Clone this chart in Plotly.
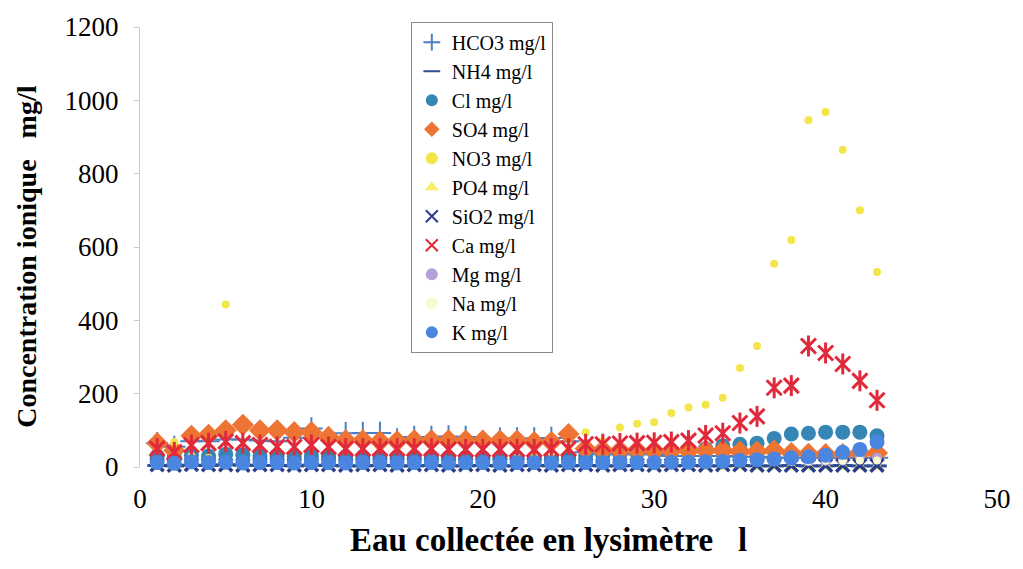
import plotly.graph_objects as go

# Sample index (litres collected in the lysimeter)
volume = [1, 2, 3, 4, 5, 6, 7, 8, 9, 10, 11, 12, 13, 14, 15, 16, 17, 18, 19, 20, 21, 22,
          23, 24, 25, 26, 27, 28, 29, 30, 31, 32, 33, 34, 35, 36, 37, 38, 39, 40, 41, 42, 43]

# Ion concentrations, mg/l
hco3 = [65, 55, 70, 70, 75, 75, 72, 70, 80, 105, 80, 92, 93, 93, 75, 82, 82, 83, 82, 70, 77, 78,
        78, 79, 70, 40, 35, 35, 35, 35, 30, 30, 30, 30, 28, 28, 25, 25, 25, 25, 25, 25, 25]
nh4 = [4, 3, 5, 4, 6, 5, 4, 4, 3, 5, 4, 3, 3, 4, 3, 3, 4, 3, 3, 4, 3, 3,
       4, 3, 3, 4, 3, 3, 4, 3, 3, 4, 3, 3, 4, 3, 3, 4, 3, 3, 4, 3, 3]
cl = [30, 28, 32, 30, 35, 33, 30, 30, 28, 30, 28, 27, 27, 26, 26, 25, 25, 25, 25, 25, 24, 24,
      24, 25, 26, 30, 32, 35, 38, 40, 42, 45, 50, 58, 62, 65, 78, 90, 92, 95, 95, 95, 85]
so4 = [65, 45, 85, 88, 100, 115, 100, 100, 95, 95, 82, 73, 73, 70, 70, 73, 73, 73, 72, 72, 72, 72,
       68, 68, 90, 50, 46, 45, 45, 44, 44, 44, 45, 45, 42, 42, 45, 38, 36, 35, 35, 38, 38]
no3 = [20, 68, 30, 25, 443, 20, 18, 15, 18, 20, 15, 18, 15, 15, 18, 15, 15, 18, 15, 15, 20, 25,
       30, 40, 50, 95, 70, 108, 118, 122, 147, 162, 170, 189, 270, 330, 554, 619, 946, 968, 865, 700, 532]
po4 = [1, 1, 2, 1, 1, 2, 1, 1, 1, 2, 1, 1, 1, 1, 2, 1, 1, 1, 1, 2, 1, 1,
       1, 1, 2, 1, 1, 1, 1, 2, 1, 1, 1, 1, 2, 1, 1, 1, 1, 2, 1, 1, 1]
sio2 = [6, 5, 7, 6, 6, 5, 6, 6, 5, 6, 6, 5, 6, 6, 5, 6, 6, 5, 6, 6, 5, 6,
        6, 5, 6, 6, 5, 6, 6, 5, 6, 6, 5, 6, 6, 5, 5, 5, 5, 5, 5, 5, 5]
ca = [50, 40, 60, 65, 70, 65, 60, 55, 55, 60, 55, 50, 50, 50, 50, 50, 50, 48, 48, 48, 48, 48,
      48, 50, 50, 62, 62, 64, 65, 66, 68, 72, 86, 92, 120, 138, 216, 222, 330, 311, 281, 235, 182]
mg = [10, 9, 11, 10, 12, 11, 10, 10, 9, 10, 10, 9, 10, 10, 9, 10, 10, 9, 10, 10, 9, 10,
      10, 9, 10, 10, 11, 11, 12, 12, 12, 13, 13, 14, 14, 15, 15, 16, 16, 17, 18, 25, 25]
na = [12, 11, 13, 12, 14, 13, 12, 12, 11, 12, 12, 11, 12, 12, 11, 12, 12, 11, 12, 12, 11, 12,
      12, 11, 12, 12, 12, 13, 13, 13, 14, 14, 14, 15, 15, 15, 16, 16, 16, 17, 17, 18, 18]
k = [12, 10, 14, 12, 13, 11, 12, 12, 11, 12, 12, 11, 12, 12, 11, 12, 12, 11, 12, 12, 11, 12,
     12, 11, 12, 12, 12, 12, 12, 12, 13, 13, 14, 15, 18, 20, 22, 25, 28, 32, 40, 48, 68]

series = [
    # name, values, symbol, colour, size, line width
    ("HCO3 mg/l", hco3, "cross-thin-open", "#4a7fc6", 16, 2),
    ("NH4 mg/l", nh4, "line-ew-open", "#2e4d93", 14, 3),
    ("Cl mg/l", cl, "circle", "#3585b5", 15, 0),
    ("SO4 mg/l", so4, "diamond", "#ee7434", 17, 0),
    ("NO3 mg/l", no3, "circle", "#f2e64a", 8, 0),
    ("PO4 mg/l", po4, "triangle-up", "#f5ef6a", 12, 0),
    ("SiO2 mg/l", sio2, "x-thin-open", "#283c8c", 13, 3.5),
    ("Ca mg/l", ca, "x-thin-open", "#e02a3c", 15, 3),
    ("Mg mg/l", mg, "circle", "#b4a0d8", 10, 0),
    ("Na mg/l", na, "circle", "#fafad2", 8, 0),
    ("K mg/l", k, "circle", "#4a86e0", 15, 0),
]

fig = go.Figure()
for name, vals, sym, col, size, lw in series:
    fig.add_trace(go.Scatter(
        x=volume, y=vals, mode="markers", name=name, legendgroup=name,
        cliponaxis=False,
        marker=dict(symbol=sym, color=col, size=size,
                    line=dict(color=col, width=lw)),
    ))
    if name.startswith("Ca"):
        # vertical stroke completing the six-armed star marker
        fig.add_trace(go.Scatter(
            x=volume, y=vals, mode="markers", name=name, legendgroup=name,
            showlegend=False, cliponaxis=False,
            marker=dict(symbol="line-ns-open", color=col, size=size,
                        line=dict(color=col, width=lw)),
        ))

serif = "Liberation Serif"

fig.update_layout(
    width=1023, height=569,
    margin=dict(l=140, r=23, t=23, b=102),
    paper_bgcolor="white", plot_bgcolor="white",
    font=dict(family=serif, color="black"),
    showlegend=True,
    legend=dict(
        x=0.316, y=1.012, xanchor="left", yanchor="top",
        bgcolor="white", bordercolor="#8a8a8a", borderwidth=1,
        font=dict(family=serif, size=20, color="black"),
        tracegroupgap=0, itemsizing="constant", itemwidth=30,
        maxheight=600,
    ),
    xaxis=dict(
        range=[0, 50], dtick=10, tick0=0, showgrid=False, zeroline=False,
        showline=False, ticks="",
        tickfont=dict(family=serif, size=27, color="black"),
        ticklabelstandoff=13,
    ),
    yaxis=dict(
        range=[0, 1200], dtick=200, tick0=0, showgrid=False, zeroline=False,
        showline=True, linecolor="#c8c8d8", linewidth=1,
        ticks="outside", ticklen=5, tickcolor="#c8c8d8",
        tickfont=dict(family=serif, size=27, color="black"),
        ticklabelstandoff=10,
    ),
    annotations=[
        dict(text="Eau collectée en lysimètre\u00a0\u00a0\u00a0l", xref="paper", yref="paper",
             x=0.4767, y=-0.1667, xanchor="center", yanchor="middle", showarrow=False,
             font=dict(family=serif, size=33, color="black", weight="bold")),
        dict(text="Concentration ionique\u00a0\u00a0\u00a0mg/l", xref="paper", yref="paper",
             x=-0.132, y=0.4775, xanchor="center", yanchor="middle", showarrow=False,
             textangle=-90,
             font=dict(family=serif, size=28, color="black", weight="bold")),
    ],
)

fig.write_html("out.html")
